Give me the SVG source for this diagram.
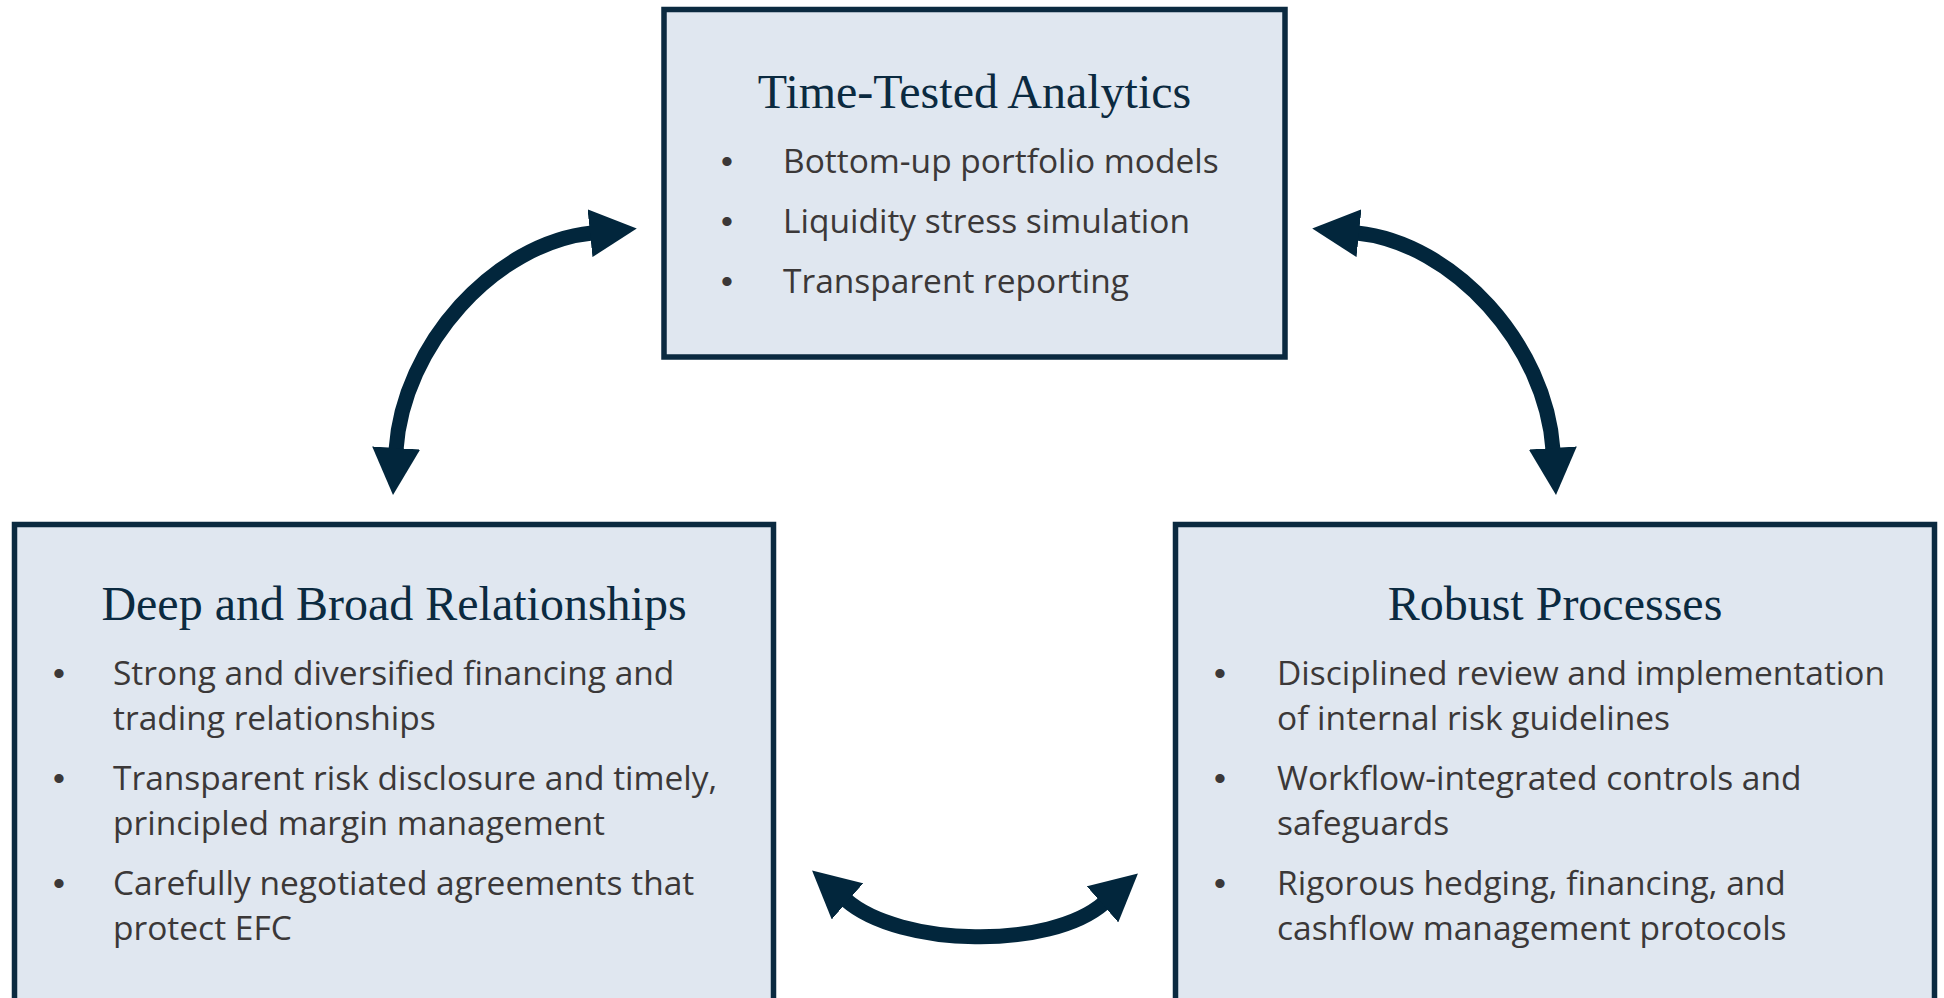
<svg xmlns="http://www.w3.org/2000/svg" width="1944" height="998" viewBox="0 0 1944 998">
<style>
.box{fill:#E0E7F0;stroke:#0B2A40;stroke-width:5.5}
.title{font-family:"Liberation Serif","Times New Roman",serif;font-size:48px;fill:#0B2A40;text-anchor:middle}
.item{font-family:"Open Sans","Liberation Sans",sans-serif;font-size:33.5px;fill:#3B3838}
.bul{font-family:"Liberation Sans",Arial,sans-serif;font-size:34px;fill:#3B3838}
.arc{fill:none;stroke:#02263C;stroke-width:15;marker-start:url(#head);marker-end:url(#head)}
</style>
<defs>
<marker id="head" markerUnits="userSpaceOnUse" viewBox="0 0 47 48" markerWidth="47" markerHeight="48" refX="2" refY="24" orient="auto-start-reverse">
<path d="M0,0 L47,24 L0,48 Z" fill="#02263C"/>
</marker>
</defs>
<rect width="1944" height="998" fill="#FFFFFF"/>
<g id="node-analytics">
<rect class="box" x="664" y="9.5" width="621" height="347.5"/>
<text class="title" x="974.5" y="108">Time-Tested Analytics</text>
<text class="bul" x="721" y="173">•</text>
<text class="item" x="783" y="173">Bottom-up portfolio models</text>
<text class="bul" x="721" y="233">•</text>
<text class="item" x="783" y="233">Liquidity stress simulation</text>
<text class="bul" x="721" y="293">•</text>
<text class="item" x="783" y="293">Transparent reporting</text>
</g>
<g id="node-relationships">
<rect class="box" x="14.5" y="524.5" width="759" height="490"/>
<text class="title" x="394" y="620">Deep and Broad Relationships</text>
<text class="bul" x="53" y="685">•</text>
<text class="item" x="113" y="685">Strong and diversified financing and</text>
<text class="item" x="113" y="730">trading relationships</text>
<text class="bul" x="53" y="790">•</text>
<text class="item" x="113" y="790">Transparent risk disclosure and timely,</text>
<text class="item" x="113" y="835">principled margin management</text>
<text class="bul" x="53" y="895">•</text>
<text class="item" x="113" y="895">Carefully negotiated agreements that</text>
<text class="item" x="113" y="940">protect EFC</text>
</g>
<g id="node-processes">
<rect class="box" x="1175.5" y="524.5" width="759" height="490"/>
<text class="title" x="1555" y="620">Robust Processes</text>
<text class="bul" x="1214" y="685">•</text>
<text class="item" x="1277" y="685">Disciplined review and implementation</text>
<text class="item" x="1277" y="730">of internal risk guidelines</text>
<text class="bul" x="1214" y="790">•</text>
<text class="item" x="1277" y="790">Workflow-integrated controls and</text>
<text class="item" x="1277" y="835">safeguards</text>
<text class="bul" x="1214" y="895">•</text>
<text class="item" x="1277" y="895">Rigorous hedging, financing, and</text>
<text class="item" x="1277" y="940">cashflow management protocols</text>
</g>
<g id="connectors">
<path class="arc" d="M396 450 C403 345, 495 243, 592 233"/>
<path class="arc" d="M1553 450 C1546 345, 1454 243, 1357 233"/>
<path class="arc" d="M846 900 C900 947, 1050 950, 1104 903"/>
</g>
</svg>
